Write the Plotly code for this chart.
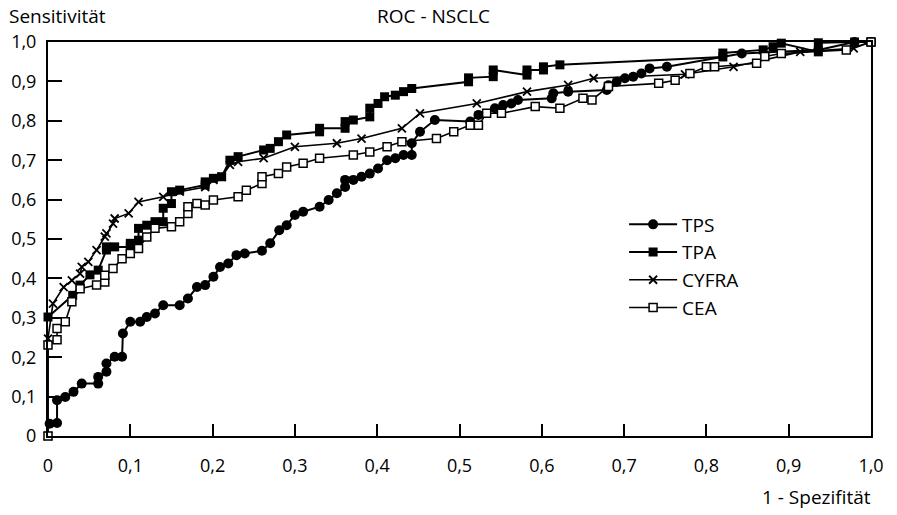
import plotly.graph_objects as go

# ---- data ----
tps_x = [0.002, 0.011, 0.011, 0.021, 0.031, 0.041, 0.061, 0.061, 0.071, 0.071, 0.081, 0.09, 0.091, 0.10, 0.112,
         0.12, 0.13, 0.14, 0.16, 0.17, 0.181, 0.191, 0.201, 0.209, 0.219, 0.229, 0.239, 0.26, 0.27, 0.281, 0.29,
         0.30, 0.31, 0.33, 0.341, 0.351, 0.361, 0.361, 0.371, 0.381, 0.391, 0.401, 0.412, 0.422, 0.432, 0.442,
         0.442, 0.452, 0.47, 0.513, 0.523, 0.543, 0.553, 0.563, 0.571, 0.612, 0.614, 0.632, 0.679, 0.681, 0.691,
         0.701, 0.711, 0.721, 0.731, 0.752, 0.843, 0.936, 0.98, 1.0]
tps_y = [0.031, 0.033, 0.091, 0.099, 0.112, 0.133, 0.133, 0.15, 0.163, 0.184, 0.201, 0.201, 0.26, 0.29, 0.29,
         0.302, 0.311, 0.332, 0.332, 0.349, 0.378, 0.383, 0.404, 0.429, 0.438, 0.459, 0.463, 0.47, 0.489, 0.522, 0.535,
         0.561, 0.569, 0.582, 0.599, 0.616, 0.632, 0.65, 0.65, 0.658, 0.666, 0.679, 0.70, 0.705, 0.713, 0.713,
         0.743, 0.772, 0.802, 0.798, 0.815, 0.832, 0.84, 0.844, 0.853, 0.857, 0.87, 0.874, 0.878, 0.89, 0.899,
         0.908, 0.912, 0.92, 0.933, 0.937, 0.971, 0.98, 1.0, 1.0]

tpa_x = [0.0, 0.03, 0.039, 0.051, 0.061, 0.071, 0.071, 0.081, 0.10, 0.10, 0.11, 0.11, 0.12, 0.13, 0.14, 0.14,
         0.15, 0.15, 0.16, 0.191, 0.191, 0.201, 0.211, 0.221, 0.231, 0.262, 0.27, 0.28, 0.29, 0.33, 0.33, 0.361,
         0.361, 0.371, 0.391, 0.391, 0.401, 0.409, 0.422, 0.432, 0.442, 0.511, 0.511, 0.541, 0.541, 0.582, 0.582,
         0.602, 0.602, 0.622, 0.82, 0.82, 0.869, 0.881, 0.891, 0.936, 0.936, 0.98, 1.0]
tpa_y = [0.302, 0.357, 0.383, 0.409, 0.421, 0.472, 0.48, 0.48, 0.48, 0.489, 0.497, 0.527, 0.535, 0.544, 0.544, 0.578,
         0.59, 0.62, 0.624, 0.637, 0.645, 0.654, 0.658, 0.70, 0.709, 0.726, 0.73, 0.747, 0.764, 0.772, 0.781, 0.781,
         0.798, 0.802, 0.81, 0.832, 0.844, 0.861, 0.865, 0.874, 0.882, 0.899, 0.909, 0.912, 0.929, 0.916, 0.929,
         0.929, 0.937, 0.942, 0.962, 0.972, 0.98, 0.988, 0.997, 0.975, 0.998, 1.0, 1.0]

cyfra_x = [0.0, 0.0, 0.006, 0.019, 0.029, 0.039, 0.041, 0.049, 0.059, 0.069, 0.071, 0.079, 0.081, 0.098, 0.11,
           0.14, 0.16, 0.191, 0.201, 0.211, 0.221, 0.231, 0.262, 0.30, 0.351, 0.381, 0.43, 0.452, 0.521, 0.582,
           0.632, 0.663, 0.774, 0.833, 0.914, 0.979, 1.0]
cyfra_y = [0.0, 0.247, 0.336, 0.378, 0.395, 0.412, 0.429, 0.442, 0.472, 0.506, 0.514, 0.539, 0.552, 0.565, 0.594,
           0.607, 0.62, 0.632, 0.65, 0.658, 0.688, 0.696, 0.705, 0.734, 0.743, 0.755, 0.781, 0.819, 0.844, 0.874,
           0.891, 0.908, 0.918, 0.937, 0.975, 0.984, 1.0]

cea_x = [0.0, 0.0, 0.011, 0.011, 0.021, 0.029, 0.039, 0.059, 0.069, 0.069, 0.079, 0.09, 0.10, 0.11, 0.12, 0.13,
         0.15, 0.16, 0.17, 0.17, 0.181, 0.191, 0.201, 0.231, 0.241, 0.26, 0.26, 0.28, 0.29, 0.31, 0.33, 0.371,
         0.391, 0.412, 0.43, 0.472, 0.493, 0.513, 0.523, 0.533, 0.551, 0.592, 0.622, 0.65, 0.661, 0.681, 0.742,
         0.762, 0.78, 0.80, 0.81, 0.861, 0.871, 0.891, 0.97, 1.0]
cea_y = [0.0, 0.231, 0.244, 0.273, 0.29, 0.341, 0.374, 0.383, 0.391, 0.408, 0.425, 0.45, 0.463, 0.476, 0.505, 0.527,
         0.531, 0.544, 0.565, 0.582, 0.59, 0.586, 0.599, 0.607, 0.624, 0.641, 0.658, 0.666, 0.683, 0.692, 0.705, 0.713,
         0.721, 0.734, 0.747, 0.755, 0.772, 0.789, 0.789, 0.819, 0.819, 0.836, 0.832, 0.857, 0.853, 0.887, 0.895,
         0.903, 0.92, 0.937, 0.937, 0.946, 0.963, 0.971, 0.98, 1.0]

tick_vals = [0, 0.1, 0.2, 0.3, 0.4, 0.5, 0.6, 0.7, 0.8, 0.9, 1.0]
tick_text = ["0", "0,1", "0,2", "0,3", "0,4", "0,5", "0,6", "0,7", "0,8", "0,9", "1,0"]

FONT = "Open Sans"
FS = 18
FS_TXT = 19

fig = go.Figure()
fig.add_trace(go.Scatter(x=tps_x, y=tps_y, name="TPS", mode="lines+markers",
                         line=dict(color="black", width=2),
                         marker=dict(symbol="circle", size=10, color="black"), cliponaxis=False))
fig.add_trace(go.Scatter(x=tpa_x, y=tpa_y, name="TPA", mode="lines+markers",
                         line=dict(color="black", width=2),
                         marker=dict(symbol="square", size=9, color="black"), cliponaxis=False))
fig.add_trace(go.Scatter(x=cyfra_x, y=cyfra_y, name="CYFRA", mode="lines+markers",
                         line=dict(color="black", width=1.6),
                         marker=dict(symbol="x-thin", size=8, color="black",
                                     line=dict(color="black", width=1.8)), cliponaxis=False))
fig.add_trace(go.Scatter(x=cea_x, y=cea_y, name="CEA", mode="lines+markers",
                         line=dict(color="black", width=1.6),
                         marker=dict(symbol="square", size=8, color="white",
                                     line=dict(color="black", width=1.5)), cliponaxis=False))

axis_common = dict(range=[0, 1], tickmode="array", tickvals=tick_vals, ticktext=tick_text,
                   showgrid=False, zeroline=False, showline=True, linecolor="black", linewidth=2,
                   mirror=True, ticks="inside", tickcolor="black", tickwidth=2, automargin=False,
                   tickfont=dict(family=FONT, size=FS, color="black"))

fig.update_layout(
    width=897, height=515,
    margin=dict(l=48, r=26, t=42, b=79, autoexpand=False),
    paper_bgcolor="white", plot_bgcolor="white",
    font=dict(family=FONT, size=FS, color="black"),
    xaxis=dict(**axis_common, ticklen=12, ticklabelstandoff=12),
    yaxis=dict(**axis_common, ticklen=14, ticklabelstandoff=6),
    showlegend=True,
    legend=dict(x=0.700, y=0.585, xanchor="left", yanchor="top", bgcolor="rgba(0,0,0,0)",
                font=dict(family=FONT, size=FS_TXT, color="black"), itemwidth=48,
                tracegroupgap=0),
    annotations=[
        dict(text="Sensitivität", xref="paper", yref="paper", x=-41 / 823, y=(436 - 16) / 394,
             xanchor="left", yanchor="middle", showarrow=False, font=dict(family=FONT, size=FS_TXT)),
        dict(text="ROC - NSCLC", xref="paper", yref="paper", x=(433 - 48) / 823, y=(436 - 16) / 394,
             xanchor="center", yanchor="middle", showarrow=False, font=dict(family=FONT, size=FS_TXT)),
        dict(text="1 - Spezifität", xref="paper", yref="paper", x=(873 - 48) / 823, y=(436 - 497) / 394,
             xanchor="right", yanchor="middle", showarrow=False, font=dict(family=FONT, size=FS_TXT)),
    ],
)

# remove the default 8 px page margin so the figure fills the window exactly
fig.write_html("out.html", config={"displayModeBar": False},
               post_script="document.body.style.margin='0';document.body.style.overflow='hidden';")
